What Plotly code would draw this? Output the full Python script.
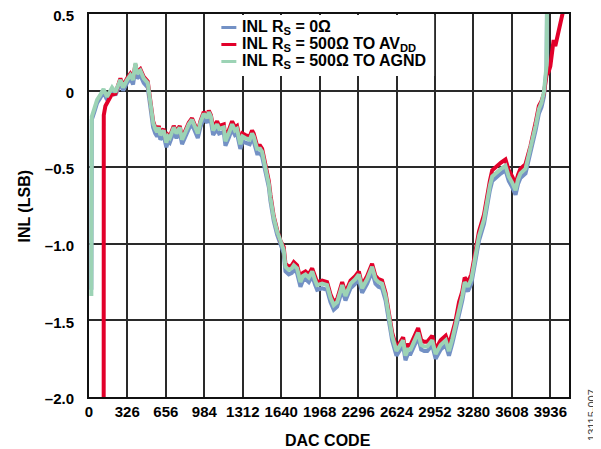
import plotly.graph_objects as go

# ---------------- data ----------------
CODES = [
    20, 24, 45, 69, 95, 124, 154, 180, 197, 225,
    250, 268, 291, 310, 325, 353, 376, 396, 410, 438,
    467, 501, 524, 547, 565, 581, 595, 609, 637, 660,
    675, 689, 723, 746, 774, 794, 823, 851, 879, 908,
    928, 950, 979, 1008, 1022, 1040, 1059, 1093, 1110, 1150,
    1164, 1192, 1221, 1245, 1263, 1291, 1310, 1334, 1371, 1391,
    1405, 1434, 1460, 1477, 1505, 1534, 1548, 1576, 1605, 1633,
    1661, 1676, 1704, 1730, 1747, 1775, 1804, 1825, 1847, 1875,
    1904, 1930, 1946, 1989, 2031, 2060, 2088, 2117, 2160, 2188,
    2210, 2231, 2273, 2302, 2330, 2350, 2373, 2415, 2444, 2470,
    2500, 2530, 2558, 2586, 2623, 2652, 2680, 2700, 2720, 2743,
    2771, 2808, 2834, 2860, 2886, 2928, 2957, 2980, 3000, 3043,
    3071, 3100, 3128, 3157, 3185, 3205, 3233, 3262, 3298, 3327,
    3370, 3397, 3420, 3440, 3482, 3515, 3553, 3581, 3610, 3639,
    3660, 3681, 3724, 3767, 3810, 3838, 3860, 3881, 3903, 3908,
]

INL_RS0 = [
    -1.30, -0.19, -0.14, -0.08, -0.05, -0.01, -0.06, -0.02, 0.00, -0.03,
    0.02, 0.05, 0.00, 0.03, 0.05, 0.08, 0.04, 0.15, 0.08, 0.10,
    0.05, 0.02, -0.09, -0.24, -0.28, -0.30, -0.27, -0.32, -0.29, -0.37,
    -0.33, -0.34, -0.27, -0.31, -0.27, -0.35, -0.30, -0.25, -0.22, -0.27,
    -0.31, -0.24, -0.18, -0.21, -0.17, -0.20, -0.29, -0.25, -0.28, -0.27,
    -0.36, -0.31, -0.25, -0.29, -0.28, -0.38, -0.33, -0.34, -0.35, -0.31,
    -0.33, -0.41, -0.41, -0.43, -0.52, -0.63, -0.72, -0.85, -0.94, -1.01,
    -1.06, -1.18, -1.20, -1.19, -1.17, -1.19, -1.28, -1.24, -1.23, -1.25,
    -1.21, -1.27, -1.30, -1.29, -1.30, -1.38, -1.43, -1.41, -1.30, -1.37,
    -1.32, -1.29, -1.26, -1.23, -1.32, -1.29, -1.26, -1.18, -1.26, -1.28,
    -1.29, -1.37, -1.52, -1.63, -1.73, -1.69, -1.66, -1.76, -1.72, -1.72,
    -1.67, -1.61, -1.69, -1.70, -1.70, -1.66, -1.75, -1.71, -1.69, -1.66,
    -1.73, -1.65, -1.56, -1.44, -1.37, -1.28, -1.31, -1.26, -1.11, -0.98,
    -0.87, -0.74, -0.65, -0.59, -0.56, -0.54, -0.52, -0.59, -0.63, -0.68,
    -0.61, -0.57, -0.54, -0.41, -0.26, -0.15, -0.11, -0.04, 0.14, 0.60,
]

INL_AGND = [
    -1.34, -0.17, -0.12, -0.06, -0.03, 0.01, -0.04, 0.00, 0.02, -0.01,
    0.04, 0.07, 0.02, 0.05, 0.07, 0.10, 0.07, 0.18, 0.11, 0.13,
    0.08, 0.05, -0.06, -0.21, -0.25, -0.27, -0.24, -0.29, -0.26, -0.34,
    -0.30, -0.31, -0.24, -0.28, -0.24, -0.32, -0.27, -0.22, -0.19, -0.24,
    -0.28, -0.21, -0.15, -0.18, -0.14, -0.17, -0.26, -0.22, -0.25, -0.24,
    -0.33, -0.28, -0.22, -0.26, -0.25, -0.35, -0.30, -0.31, -0.32, -0.28,
    -0.30, -0.38, -0.38, -0.40, -0.50, -0.61, -0.70, -0.83, -0.92, -0.99,
    -1.04, -1.15, -1.17, -1.16, -1.14, -1.16, -1.25, -1.21, -1.20, -1.22,
    -1.18, -1.24, -1.27, -1.26, -1.27, -1.35, -1.40, -1.38, -1.27, -1.34,
    -1.29, -1.26, -1.23, -1.20, -1.29, -1.26, -1.23, -1.15, -1.23, -1.25,
    -1.26, -1.34, -1.49, -1.60, -1.70, -1.66, -1.63, -1.73, -1.69, -1.69,
    -1.64, -1.58, -1.66, -1.67, -1.67, -1.63, -1.72, -1.68, -1.66, -1.63,
    -1.70, -1.62, -1.53, -1.41, -1.34, -1.25, -1.28, -1.23, -1.08, -0.95,
    -0.84, -0.71, -0.62, -0.56, -0.53, -0.51, -0.49, -0.56, -0.60, -0.65,
    -0.58, -0.54, -0.51, -0.38, -0.23, -0.12, -0.08, -0.01, 0.16, 0.60,
]

CODES_AVDD = [
    125, 126, 140, 160, 190, 225,
    250, 268, 291, 310, 325, 353, 376, 396, 410, 438,
    467, 501, 524, 547, 565, 581, 595, 609, 637, 660,
    675, 689, 723, 746, 774, 794, 823, 851, 879, 908,
    928, 950, 979, 1008, 1022, 1040, 1059, 1093, 1110, 1150,
    1164, 1192, 1221, 1245, 1263, 1291, 1310, 1334, 1371, 1391,
    1405, 1434, 1460, 1477, 1505, 1534, 1548, 1576, 1605, 1633,
    1661, 1676, 1704, 1730, 1747, 1775, 1804, 1825, 1847, 1875,
    1904, 1930, 1946, 1989, 2031, 2060, 2088, 2117, 2160, 2188,
    2210, 2231, 2273, 2302, 2330, 2350, 2373, 2415, 2444, 2470,
    2500, 2530, 2558, 2586, 2623, 2652, 2680, 2700, 2720, 2743,
    2771, 2808, 2834, 2860, 2886, 2928, 2957, 2980, 3000, 3043,
    3071, 3100, 3128, 3157, 3185, 3205, 3233, 3262, 3298, 3327,
    3370, 3397, 3420, 3440, 3482, 3515, 3553, 3581, 3610, 3639,
    3660, 3681, 3724, 3767, 3810, 3838, 3860, 3881,
    3903, 3920, 3936, 3950, 3964, 3978, 3993, 4007, 4025, 4045,
]

INL_AVDD = [
    -2.60, -0.16, -0.10, -0.07, -0.03, -0.02,
    0.05, 0.08, 0.03, 0.06, 0.08, 0.11, 0.08, 0.17, 0.12, 0.14,
    0.09, 0.06, -0.05, -0.20, -0.24, -0.26, -0.23, -0.28, -0.25, -0.33,
    -0.29, -0.30, -0.23, -0.27, -0.23, -0.31, -0.26, -0.21, -0.18, -0.23,
    -0.27, -0.20, -0.14, -0.17, -0.13, -0.16, -0.24, -0.20, -0.23, -0.22,
    -0.31, -0.26, -0.20, -0.24, -0.23, -0.33, -0.28, -0.29, -0.30, -0.26,
    -0.28, -0.36, -0.36, -0.38, -0.48, -0.59, -0.68, -0.82, -0.91, -0.98,
    -1.02, -1.13, -1.15, -1.14, -1.12, -1.14, -1.23, -1.19, -1.18, -1.20,
    -1.16, -1.22, -1.25, -1.24, -1.25, -1.33, -1.38, -1.36, -1.25, -1.32,
    -1.27, -1.24, -1.21, -1.18, -1.27, -1.24, -1.21, -1.13, -1.21, -1.23,
    -1.24, -1.32, -1.47, -1.58, -1.68, -1.64, -1.61, -1.70, -1.66, -1.66,
    -1.61, -1.55, -1.63, -1.64, -1.64, -1.60, -1.69, -1.65, -1.63, -1.60,
    -1.66, -1.58, -1.50, -1.38, -1.31, -1.22, -1.25, -1.20, -1.05, -0.92,
    -0.81, -0.68, -0.59, -0.52, -0.49, -0.47, -0.45, -0.52, -0.56, -0.61,
    -0.55, -0.51, -0.48, -0.36, -0.21, -0.10, -0.07, -0.02,
    0.10, 0.12, 0.16, 0.24, 0.33, 0.29, 0.34, 0.37, 0.44, 0.52,
]

X_TICKS = [0, 326, 656, 984, 1312, 1640, 1968, 2296, 2624, 2952, 3280, 3608, 3936]
X_TICK_TEXT = ["0", "326", "656", "984", "1312", "1640", "1968", "2296",
               "2624", "2952", "3280", "3608", "3936"]
Y_TICKS = [0.5, 0, -0.5, -1.0, -1.5, -2.0]
Y_TICK_TEXT = ["0.5", "0", "–0.5", "–1.0", "–1.5", "–2.0"]

NAMES = [
    "INL R<sub>S</sub> = 0Ω",
    "INL R<sub>S</sub> = 500Ω TO AV<sub>DD</sub>",
    "INL R<sub>S</sub> = 500Ω TO AGND",
]
COLORS = ["#7391C5", "#E2002A", "#9CD3B5"]

# ---------------- figure ----------------
FONT = "Liberation Sans, Arial, sans-serif"
W, H = 601, 449
OFF = 8  # page body margin offset in the screenshot
# target plot area in screenshot pixels
SX0, SX1, SY0, SY1 = 88.5, 569, 14, 397
L = SX0 - OFF
R = W - (SX1 - OFF)
T = SY0 - OFF
B = H - (SY1 - OFF)
PW, PH = W - L - R, H - T - B


def px(x):
    """screenshot x pixel -> paper coordinate"""
    return (x - OFF - L) / PW


def py(y):
    """screenshot y pixel -> paper coordinate"""
    return (H - B - (y - OFF)) / PH


fig = go.Figure()
fig.add_trace(go.Scatter(x=CODES, y=INL_RS0, mode="lines", name=NAMES[0],
                         line=dict(color=COLORS[0], width=4)))
fig.add_trace(go.Scatter(x=CODES_AVDD, y=INL_AVDD, mode="lines", name=NAMES[1],
                         line=dict(color=COLORS[1], width=4)))
fig.add_trace(go.Scatter(x=CODES, y=INL_AGND, mode="lines", name=NAMES[2],
                         line=dict(color=COLORS[2], width=4)))

axis_common = dict(
    showline=True, linecolor="#111", linewidth=2, mirror=True,
    showgrid=True, gridcolor="#2a2a2a", gridwidth=1.5,
    zeroline=False, ticks="", ticklen=0, automargin=False,
    ticklabeloverflow="allow",
    tickfont=dict(family=FONT, size=15, color="#000", weight="bold"),
)

fig.update_xaxes(range=[0, 4095], tickmode="array", tickvals=X_TICKS,
                 ticktext=X_TICK_TEXT, **axis_common)
fig.update_yaxes(range=[-2.0, 0.5], tickmode="array", tickvals=Y_TICKS,
                 ticktext=Y_TICK_TEXT, ticklabelstandoff=10, ticklabelshift=2,
                 **axis_common)

# legend drawn as shapes + text
shapes = [
    dict(type="rect", xref="paper", yref="paper", layer="above",
         x0=px(205), x1=px(434), y0=py(15), y1=py(76),
         fillcolor="white", line=dict(width=0)),
]
annotations = []
LEG_Y = [28, 45, 62]
for name, color, yy in zip(NAMES, COLORS, LEG_Y):
    shapes.append(dict(type="line", xref="paper", yref="paper", layer="above",
                       x0=px(221), x1=px(236), y0=py(yy - 0.5), y1=py(yy - 0.5),
                       line=dict(color=color, width=3)))
    annotations.append(dict(text=name, xref="paper", yref="paper",
                            x=px(240), y=py(yy), xanchor="left", yanchor="middle",
                            showarrow=False,
                            font=dict(family=FONT, size=16, color="#000",
                                      weight="bold")))

annotations += [
    dict(text="INL (LSB)", xref="paper", yref="paper", x=px(23), y=py(206),
         textangle=-90, showarrow=False, xanchor="center", yanchor="middle",
         font=dict(family=FONT, size=16, color="#000", weight="bold")),
    dict(text="DAC CODE", xref="paper", yref="paper", x=px(328), y=py(441),
         showarrow=False, xanchor="center", yanchor="middle",
         font=dict(family=FONT, size=16, color="#000", weight="bold")),
    dict(text="13115-007", xref="paper", yref="paper", x=px(592), y=py(415),
         textangle=-90, showarrow=False, xanchor="center", yanchor="middle",
         font=dict(family=FONT, size=11, color="#444")),
]

fig.update_layout(
    width=W, height=H,
    margin=dict(l=L, r=R, t=T, b=B, pad=0, autoexpand=False),
    paper_bgcolor="white", plot_bgcolor="white",
    font=dict(family=FONT, color="#000"),
    showlegend=False,
    shapes=shapes,
    annotations=annotations,
)

fig.write_html("out.html")
